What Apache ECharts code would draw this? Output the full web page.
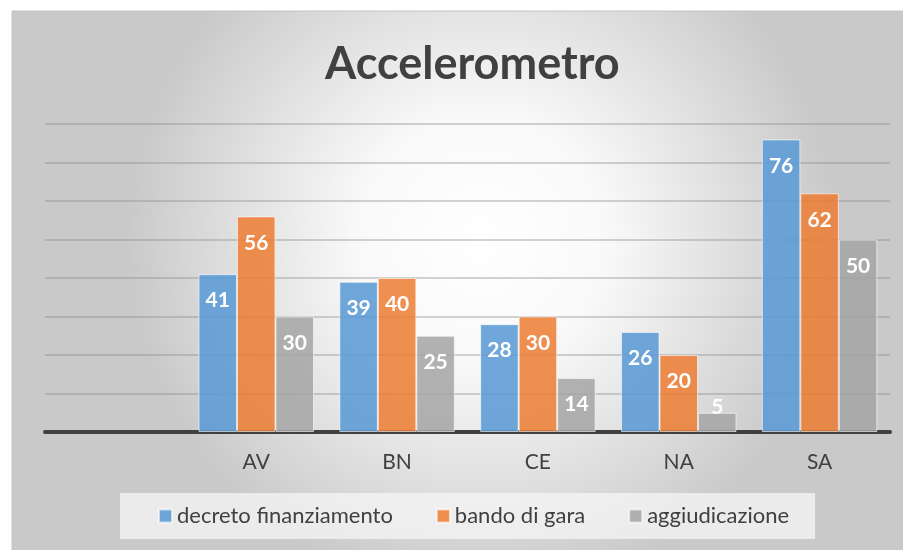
<!DOCTYPE html>
<html>
<head>
<meta charset="utf-8">
<title>Accelerometro</title>
<script src="https://cdn.jsdelivr.net/npm/echarts@6/dist/echarts.min.js"></script>
<style>
  html, body { margin: 0; padding: 0; background: #fff; }
  #chart { width: 903px; height: 550px; }
</style>
</head>
<body>
<div id="chart"></div>
<script>
// dati
const categories = ['', 'AV', 'BN', 'CE', 'NA', 'SA'];
const decretoFinanziamento = [null, 41, 39, 28, 26, 76];
const bandoDiGara = [null, 56, 40, 30, 20, 62];
const aggiudicazione = [null, 30, 25, 14, 5, 50];
const seriesNames = ['decreto finanziamento', 'bando di gara', 'aggiudicazione'];

const FONT = 'Lato, "Open Sans", sans-serif';
const colors = ['rgba(91,155,213,0.88)', 'rgba(237,125,49,0.85)', 'rgba(165,165,165,0.85)'];

function makeSeries(name, values, color) {
  return {
    name: name,
    type: 'bar',
    data: values.map(function (v) {
      // barra troppo bassa: etichetta sopra il bordo
      if (v !== null && v < 8) {
        return { value: v, label: { position: ['50%', -6], align: 'center', verticalAlign: 'middle' } };
      }
      return v;
    }),
    barGap: '0%',
    barCategoryGap: '18%',
    itemStyle: { color: color, borderColor: 'rgba(255,255,255,0.6)', borderWidth: 1 },
    label: {
      show: true,
      position: 'insideTop',
      distance: 16,
      color: '#fff',
      fontFamily: FONT,
      fontWeight: 'bold',
      fontSize: 21
    }
  };
}

const chart = echarts.init(document.getElementById('chart'));
chart.setOption({
  animation: false,
  backgroundColor: '#fff',
  graphic: [{
    type: 'rect',
    z: -10,
    shape: { x: 12, y: 11, width: 903, height: 545 },
    style: {
      fill: {
        type: 'radial', x: 0.52, y: 0.42, r: 0.65,
        colorStops: [
          { offset: 0, color: '#ffffff' },
          { offset: 0.35, color: '#f9f9f9' },
          { offset: 1, color: '#c9c9c9' }
        ]
      },
      stroke: '#c4c4c4',
      lineWidth: 1
    }
  }],
  title: {
    text: 'Accelerometro',
    left: 320,
    top: 37,
    textStyle: { fontFamily: FONT, fontWeight: 'bold', fontSize: 45, color: '#404040' }
  },
  legend: {
    data: seriesNames,
    left: 120,
    top: 493,
    padding: [12, 26, 12, 38],
    backgroundColor: 'rgba(245,245,245,0.75)',
    itemWidth: 13,
    itemHeight: 13,
    itemGap: 43,
    icon: 'rect',
    textStyle: { fontFamily: FONT, fontSize: 22, color: '#404040' }
  },
  grid: { left: 45, right: 13, top: 124, bottom: 118 },
  xAxis: {
    type: 'category',
    data: categories,
    axisTick: { show: false },
    axisLine: { lineStyle: { color: '#404040', width: 4 } },
    axisLabel: { fontFamily: FONT, fontSize: 21, color: '#404040', margin: 20 }
  },
  yAxis: {
    type: 'value',
    min: 0,
    max: 80,
    interval: 10,
    axisLabel: { show: false },
    axisLine: { show: false },
    axisTick: { show: false },
    splitLine: { lineStyle: { color: 'rgba(140,140,140,0.5)', width: 1.5 } }
  },
  series: [
    makeSeries(seriesNames[0], decretoFinanziamento, colors[0]),
    makeSeries(seriesNames[1], bandoDiGara, colors[1]),
    makeSeries(seriesNames[2], aggiudicazione, colors[2])
  ]
});
</script>
</body>
</html>
